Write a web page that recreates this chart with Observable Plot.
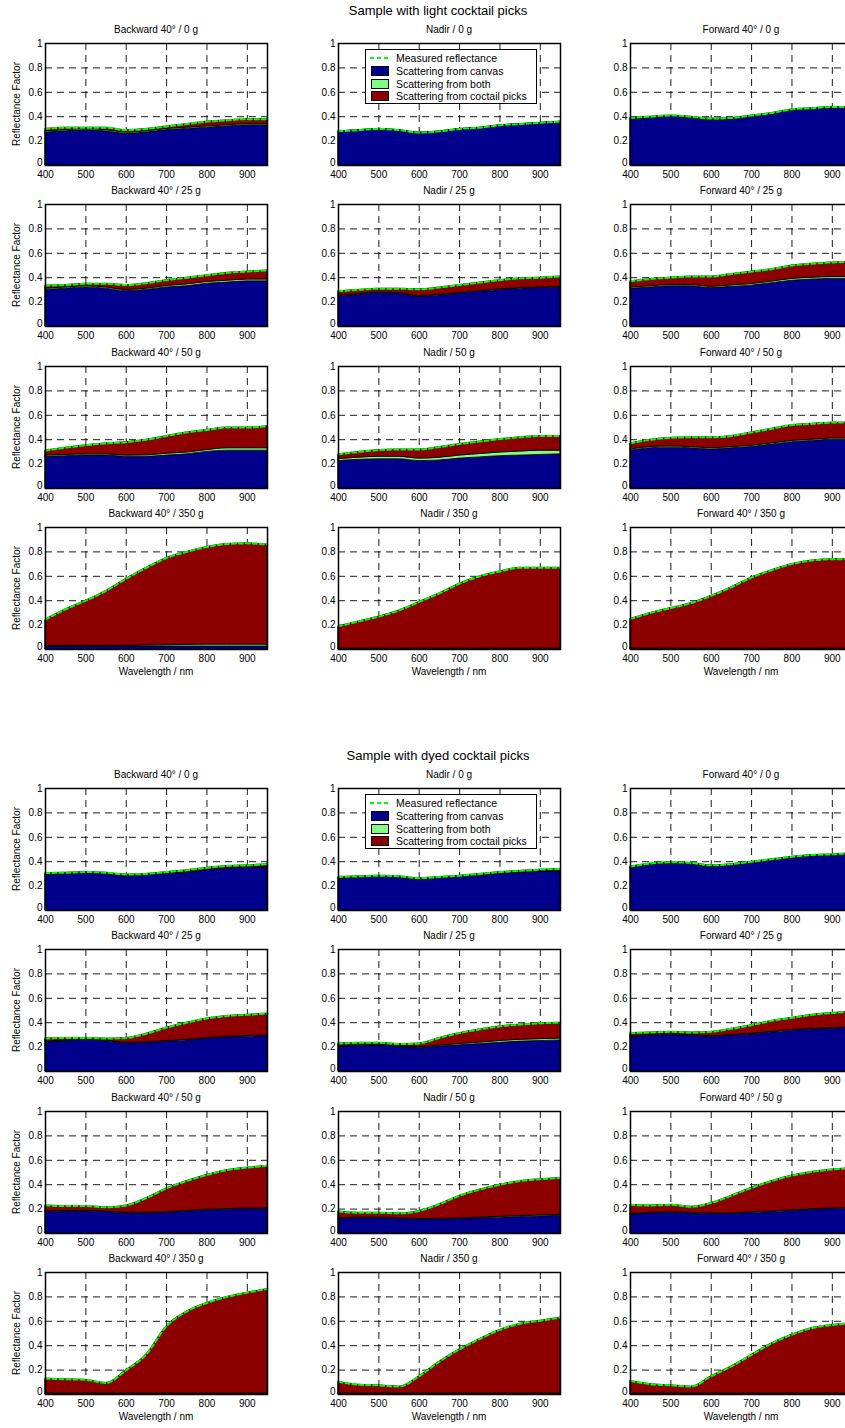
<!DOCTYPE html>
<html><head><meta charset="utf-8">
<script src="https://cdn.jsdelivr.net/npm/d3@7"></script>
<script src="https://cdn.jsdelivr.net/npm/@observablehq/plot@0.6"></script>
<style>
body{margin:0;background:#fff;font-family:"Liberation Sans",Arial,sans-serif;}
#page{position:relative;width:845px;height:1428px;overflow:hidden;background:#fff;}
.abs{position:absolute;white-space:nowrap;color:#000;}
.ptitle{font-size:10px;line-height:12px;text-align:center;width:222px;}
.gtitle{font-size:13px;line-height:16px;text-align:center;width:400px;}
.ylab{font-size:10px;line-height:12px;width:120px;text-align:center;transform:rotate(-90deg);}
.xlab{font-size:10px;line-height:12px;width:222px;text-align:center;}
.legend{border:1px solid #000;background:#fff;width:172px;height:55px;box-sizing:border-box;}
.legend .row{position:absolute;left:0;height:12px;width:170px;font-size:10.5px;line-height:12px;}
.legend .txt{position:absolute;left:30px;top:0;}
.legend .sw{position:absolute;left:5px;top:1px;width:18px;height:10px;box-sizing:border-box;border:1px solid #000;}
svg{overflow:visible;}
</style></head><body><div id="page"></div>
<script>
// ---------- data ----------
const wavelengths = [400,450,500,550,600,650,700,750,800,850,900,950];
const xTicks = [400,500,600,700,800,900];
const yTicks = [0,0.2,0.4,0.6,0.8,1];
const views = ["Backward 40°","Nadir","Forward 40°"];
const loads = ["0 g","25 g","50 g","350 g"];
const groupTitles = ["Sample with light cocktail picks","Sample with dyed cocktail picks"];
const seriesLabels = ["Measured reflectance","Scattering from canvas","Scattering from both","Scattering from coctail picks"];
const seriesColors = ["#00ff00","#00008c","#80ff80","#8c0000"];
const yLabel = "Reflectance Factor";
const xLabel = "Wavelength / nm";

// light picks: [load][view] -> values at wavelengths
const lightMeasured = [
 [[0.30,0.31,0.31,0.31,0.29,0.30,0.32,0.34,0.36,0.37,0.38,0.38],
  [0.28,0.29,0.30,0.29,0.27,0.28,0.30,0.31,0.33,0.34,0.35,0.36],
  [0.39,0.40,0.41,0.40,0.385,0.39,0.41,0.43,0.46,0.47,0.48,0.48]],
 [[0.335,0.34,0.35,0.35,0.34,0.355,0.38,0.40,0.42,0.44,0.45,0.46],
  [0.29,0.30,0.31,0.31,0.305,0.32,0.34,0.36,0.38,0.395,0.40,0.41],
  [0.37,0.39,0.40,0.41,0.41,0.43,0.45,0.47,0.50,0.515,0.525,0.53]],
 [[0.31,0.335,0.355,0.37,0.38,0.40,0.43,0.46,0.48,0.50,0.50,0.51],
  [0.28,0.30,0.315,0.32,0.32,0.34,0.365,0.385,0.405,0.42,0.43,0.43],
  [0.37,0.40,0.415,0.42,0.42,0.43,0.46,0.49,0.52,0.53,0.54,0.54]],
 [[0.245,0.33,0.40,0.48,0.58,0.67,0.75,0.80,0.84,0.865,0.87,0.86],
  [0.19,0.23,0.27,0.32,0.39,0.46,0.54,0.60,0.64,0.67,0.67,0.67],
  [0.25,0.30,0.34,0.38,0.44,0.51,0.59,0.65,0.70,0.73,0.74,0.74]]
];
const lightCanvas = [
 [[0.27,0.28,0.29,0.28,0.26,0.27,0.29,0.30,0.31,0.32,0.33,0.33],
  [0.275,0.285,0.295,0.285,0.265,0.275,0.295,0.305,0.325,0.335,0.345,0.355],
  [0.38,0.39,0.40,0.39,0.375,0.38,0.40,0.42,0.45,0.46,0.47,0.47]],
 [[0.30,0.31,0.32,0.31,0.29,0.30,0.32,0.33,0.35,0.36,0.37,0.37],
  [0.25,0.26,0.275,0.27,0.245,0.255,0.27,0.285,0.30,0.31,0.315,0.32],
  [0.31,0.32,0.33,0.33,0.315,0.325,0.335,0.355,0.375,0.385,0.39,0.39]],
 [[0.26,0.265,0.27,0.27,0.26,0.26,0.27,0.28,0.30,0.31,0.31,0.31],
  [0.225,0.235,0.24,0.24,0.225,0.23,0.245,0.255,0.265,0.27,0.275,0.28],
  [0.31,0.33,0.335,0.33,0.32,0.33,0.34,0.36,0.38,0.39,0.40,0.40]],
 [[0.025,0.025,0.025,0.025,0.025,0.025,0.025,0.025,0.025,0.025,0.025,0.025],
  [0.005,0.005,0.005,0.005,0.005,0.005,0.005,0.005,0.005,0.005,0.005,0.005],
  [0.005,0.005,0.005,0.005,0.005,0.005,0.005,0.005,0.005,0.005,0.005,0.005]]
];
const lightBothTop = [
 [[0.28,0.29,0.30,0.29,0.27,0.28,0.30,0.31,0.32,0.33,0.34,0.34],
  [0.278,0.288,0.298,0.288,0.268,0.278,0.298,0.308,0.328,0.338,0.348,0.358],
  [0.383,0.393,0.403,0.393,0.378,0.383,0.403,0.423,0.453,0.463,0.473,0.473]],
 [[0.31,0.32,0.33,0.32,0.30,0.31,0.332,0.345,0.365,0.375,0.385,0.385],
  [0.255,0.265,0.28,0.275,0.25,0.26,0.275,0.29,0.305,0.315,0.32,0.325],
  [0.32,0.33,0.34,0.34,0.325,0.337,0.348,0.368,0.39,0.40,0.405,0.405]],
 [[0.27,0.275,0.28,0.28,0.27,0.272,0.285,0.295,0.315,0.33,0.33,0.33],
  [0.24,0.253,0.26,0.26,0.245,0.252,0.27,0.283,0.295,0.303,0.31,0.31],
  [0.32,0.34,0.345,0.34,0.33,0.34,0.35,0.37,0.39,0.40,0.41,0.41]],
 [[0.03,0.03,0.03,0.03,0.03,0.033,0.035,0.038,0.04,0.04,0.04,0.04],
  [0.008,0.008,0.008,0.008,0.008,0.008,0.008,0.008,0.008,0.008,0.008,0.008],
  [0.008,0.008,0.008,0.008,0.008,0.008,0.008,0.008,0.008,0.008,0.008,0.008]]
];

// dyed picks
const dyedMeasured = [
 [[0.307,0.31,0.315,0.31,0.295,0.30,0.315,0.33,0.35,0.365,0.37,0.38],
  [0.275,0.28,0.285,0.28,0.265,0.275,0.285,0.30,0.315,0.325,0.335,0.34],
  [0.36,0.385,0.395,0.39,0.37,0.38,0.40,0.42,0.44,0.455,0.46,0.47]],
 [[0.27,0.275,0.275,0.27,0.275,0.31,0.36,0.40,0.435,0.455,0.465,0.475],
  [0.23,0.235,0.235,0.225,0.23,0.275,0.315,0.345,0.37,0.385,0.395,0.40],
  [0.315,0.32,0.325,0.32,0.325,0.35,0.38,0.415,0.44,0.465,0.48,0.49]],
 [[0.23,0.225,0.225,0.215,0.23,0.29,0.37,0.43,0.48,0.52,0.54,0.555],
  [0.18,0.17,0.17,0.165,0.185,0.24,0.31,0.36,0.40,0.43,0.445,0.455],
  [0.235,0.23,0.235,0.22,0.25,0.31,0.375,0.43,0.475,0.505,0.525,0.535]],
 [[0.13,0.125,0.12,0.095,0.20,0.33,0.56,0.68,0.75,0.80,0.835,0.865],
  [0.105,0.08,0.075,0.065,0.15,0.27,0.37,0.455,0.53,0.58,0.605,0.63],
  [0.11,0.085,0.075,0.065,0.15,0.23,0.325,0.42,0.49,0.545,0.57,0.585]]
];
const dyedCanvas = [
 [[0.29,0.30,0.305,0.30,0.28,0.29,0.30,0.31,0.33,0.345,0.35,0.355],
  [0.26,0.27,0.275,0.27,0.255,0.265,0.275,0.285,0.30,0.31,0.32,0.32],
  [0.35,0.375,0.385,0.38,0.36,0.37,0.39,0.41,0.43,0.445,0.45,0.46]],
 [[0.24,0.25,0.26,0.25,0.23,0.235,0.245,0.255,0.27,0.28,0.285,0.29],
  [0.205,0.21,0.215,0.205,0.195,0.205,0.215,0.225,0.235,0.245,0.25,0.255],
  [0.28,0.295,0.30,0.295,0.285,0.295,0.305,0.32,0.335,0.345,0.35,0.36]],
 [[0.175,0.18,0.18,0.175,0.165,0.165,0.17,0.18,0.19,0.195,0.20,0.20],
  [0.12,0.125,0.125,0.12,0.115,0.115,0.12,0.125,0.13,0.135,0.14,0.145],
  [0.155,0.165,0.17,0.165,0.16,0.16,0.17,0.175,0.185,0.195,0.20,0.205]],
 [[0.005,0.005,0.005,0.005,0.005,0.005,0.005,0.005,0.005,0.005,0.005,0.005],
  [0.005,0.005,0.005,0.005,0.005,0.005,0.005,0.005,0.005,0.005,0.005,0.005],
  [0.005,0.005,0.005,0.005,0.005,0.005,0.005,0.005,0.005,0.005,0.005,0.005]]
];
const dyedBothTop = [
 [[0.294,0.304,0.309,0.304,0.284,0.294,0.304,0.314,0.334,0.349,0.354,0.359],
  [0.263,0.273,0.278,0.273,0.258,0.268,0.278,0.288,0.303,0.313,0.323,0.323],
  [0.353,0.378,0.388,0.383,0.363,0.373,0.393,0.413,0.433,0.448,0.453,0.463]],
 [[0.245,0.255,0.265,0.255,0.235,0.24,0.25,0.26,0.275,0.285,0.29,0.295],
  [0.21,0.215,0.22,0.21,0.20,0.212,0.225,0.237,0.25,0.26,0.265,0.27],
  [0.285,0.30,0.305,0.30,0.29,0.30,0.31,0.325,0.34,0.35,0.355,0.365]],
 [[0.18,0.185,0.185,0.18,0.17,0.17,0.175,0.185,0.195,0.20,0.205,0.205],
  [0.125,0.13,0.13,0.125,0.12,0.12,0.125,0.13,0.137,0.143,0.148,0.153],
  [0.16,0.17,0.175,0.17,0.165,0.165,0.175,0.18,0.19,0.20,0.205,0.21]],
 [[0.008,0.008,0.008,0.008,0.008,0.008,0.008,0.008,0.008,0.008,0.008,0.008],
  [0.008,0.008,0.008,0.008,0.008,0.008,0.008,0.008,0.008,0.008,0.008,0.008],
  [0.008,0.008,0.008,0.008,0.008,0.008,0.008,0.008,0.008,0.008,0.008,0.008]]
];

// ---------- layout ----------
const groups = [
  {title: groupTitles[0], M: lightMeasured, C: lightCanvas, B: lightBothTop, offset: 0},
  {title: groupTitles[1], M: dyedMeasured, C: dyedCanvas, B: dyedBothTop, offset: 745}
];
const colLeft = [45, 338, 630];
const rowTop = [43, 204.3, 365.6, 527];
const PW = 222, PH = 122;
const ML = 30, MR = 2, MT = 2, MB = 16;
const page = document.getElementById("page");
const curve = "monotone-x";

function addDiv(cls, text, left, top) {
  const d = document.createElement("div");
  d.className = "abs " + cls;
  d.textContent = text;
  d.style.left = left + "px";
  d.style.top = top + "px";
  page.appendChild(d);
  return d;
}

function panel(g, r, c) {
  const canvas = g.C[r][c], bothTop = g.B[r][c], meas = g.M[r][c];
  const areas = [];
  wavelengths.forEach((w, i) => {
    areas.push({w, s: seriesLabels[1], lo: 0, hi: canvas[i]});
    areas.push({w, s: seriesLabels[2], lo: canvas[i], hi: bothTop[i]});
    areas.push({w, s: seriesLabels[3], lo: bothTop[i], hi: meas[i]});
  });
  const line = wavelengths.map((w, i) => ({w, m: meas[i]}));
  return Plot.plot({
    width: PW + ML + MR, height: PH + MT + MB,
    marginLeft: ML, marginRight: MR, marginTop: MT, marginBottom: MB,
    style: {fontFamily: '"Liberation Sans", Arial, sans-serif', fontSize: "10px", background: "transparent", overflow: "visible", color: "#000"},
    x: {domain: [400, 950], ticks: xTicks, tickSize: 0, tickPadding: 5, label: null},
    y: {domain: [0, 1], axis: null},
    color: {domain: seriesLabels.slice(1), range: seriesColors.slice(1)},
    marks: [
      Plot.ruleX(xTicks.slice(1), {stroke: "#000", strokeWidth: 0.9, strokeDasharray: "7,5"}),
      Plot.ruleY(yTicks.slice(1, -1), {stroke: "#000", strokeWidth: 0.9, strokeDasharray: "7,5"}),
      Plot.areaY(areas, {x: "w", y1: "lo", y2: "hi", z: "s", fill: "s", stroke: "#000", strokeWidth: 0.8, curve}),
      Plot.line(line, {x: "w", y: "m", stroke: seriesColors[0], strokeWidth: 2, strokeDasharray: "4,3", curve}),
      Plot.frame({stroke: "#000", strokeWidth: 1.5}),
      Plot.text(yTicks.slice(1), {y: d => d, text: d => String(d), frameAnchor: "left", textAnchor: "end", dx: -3, fill: "#000"}),
      Plot.text(yTicks.slice(0, 1), {y: d => d, text: d => String(d), frameAnchor: "left", textAnchor: "end", dx: -3, dy: -2.5, fill: "#000"})
    ]
  });
}

function legend(left, top) {
  const L = document.createElement("div");
  L.className = "abs legend";
  L.style.left = left + "px";
  L.style.top = top + "px";
  const rowsTop = [2, 15, 27.5, 40];
  seriesLabels.forEach((lab, i) => {
    const row = document.createElement("div");
    row.className = "row";
    row.style.top = rowsTop[i] + "px";
    if (i === 0) {
      row.innerHTML = '<svg width="22" height="12" style="position:absolute;left:4px;top:0"><line x1="0" y1="6" x2="20" y2="6" stroke="' + seriesColors[0] + '" stroke-width="2" stroke-dasharray="4,3"/></svg>';
    } else {
      const sw = document.createElement("div");
      sw.className = "sw";
      sw.style.background = seriesColors[i];
      row.appendChild(sw);
    }
    const t = document.createElement("span");
    t.className = "txt";
    t.textContent = lab;
    row.appendChild(t);
    L.appendChild(row);
  });
  page.appendChild(L);
}

groups.forEach(g => {
  addDiv("gtitle", g.title, 438 - 200, g.offset + 3);
  loads.forEach((load, r) => {
    views.forEach((view, c) => {
      const top = rowTop[r] + g.offset;
      const left = colLeft[c];
      const svg = panel(g, r, c);
      svg.style.position = "absolute";
      svg.style.left = (left - ML) + "px";
      svg.style.top = (top - MT) + "px";
      page.appendChild(svg);
      addDiv("ptitle", view + " / " + load, left, top - 19);
      if (c === 0) addDiv("ylab", yLabel, 17 - 60, top + PH / 2 - 6);
      if (r === loads.length - 1) addDiv("xlab", xLabel, left, top + PH + 17);
    });
  });
  legend(colLeft[1] + 27, rowTop[0] + g.offset + 6);
});
</script></body></html>
